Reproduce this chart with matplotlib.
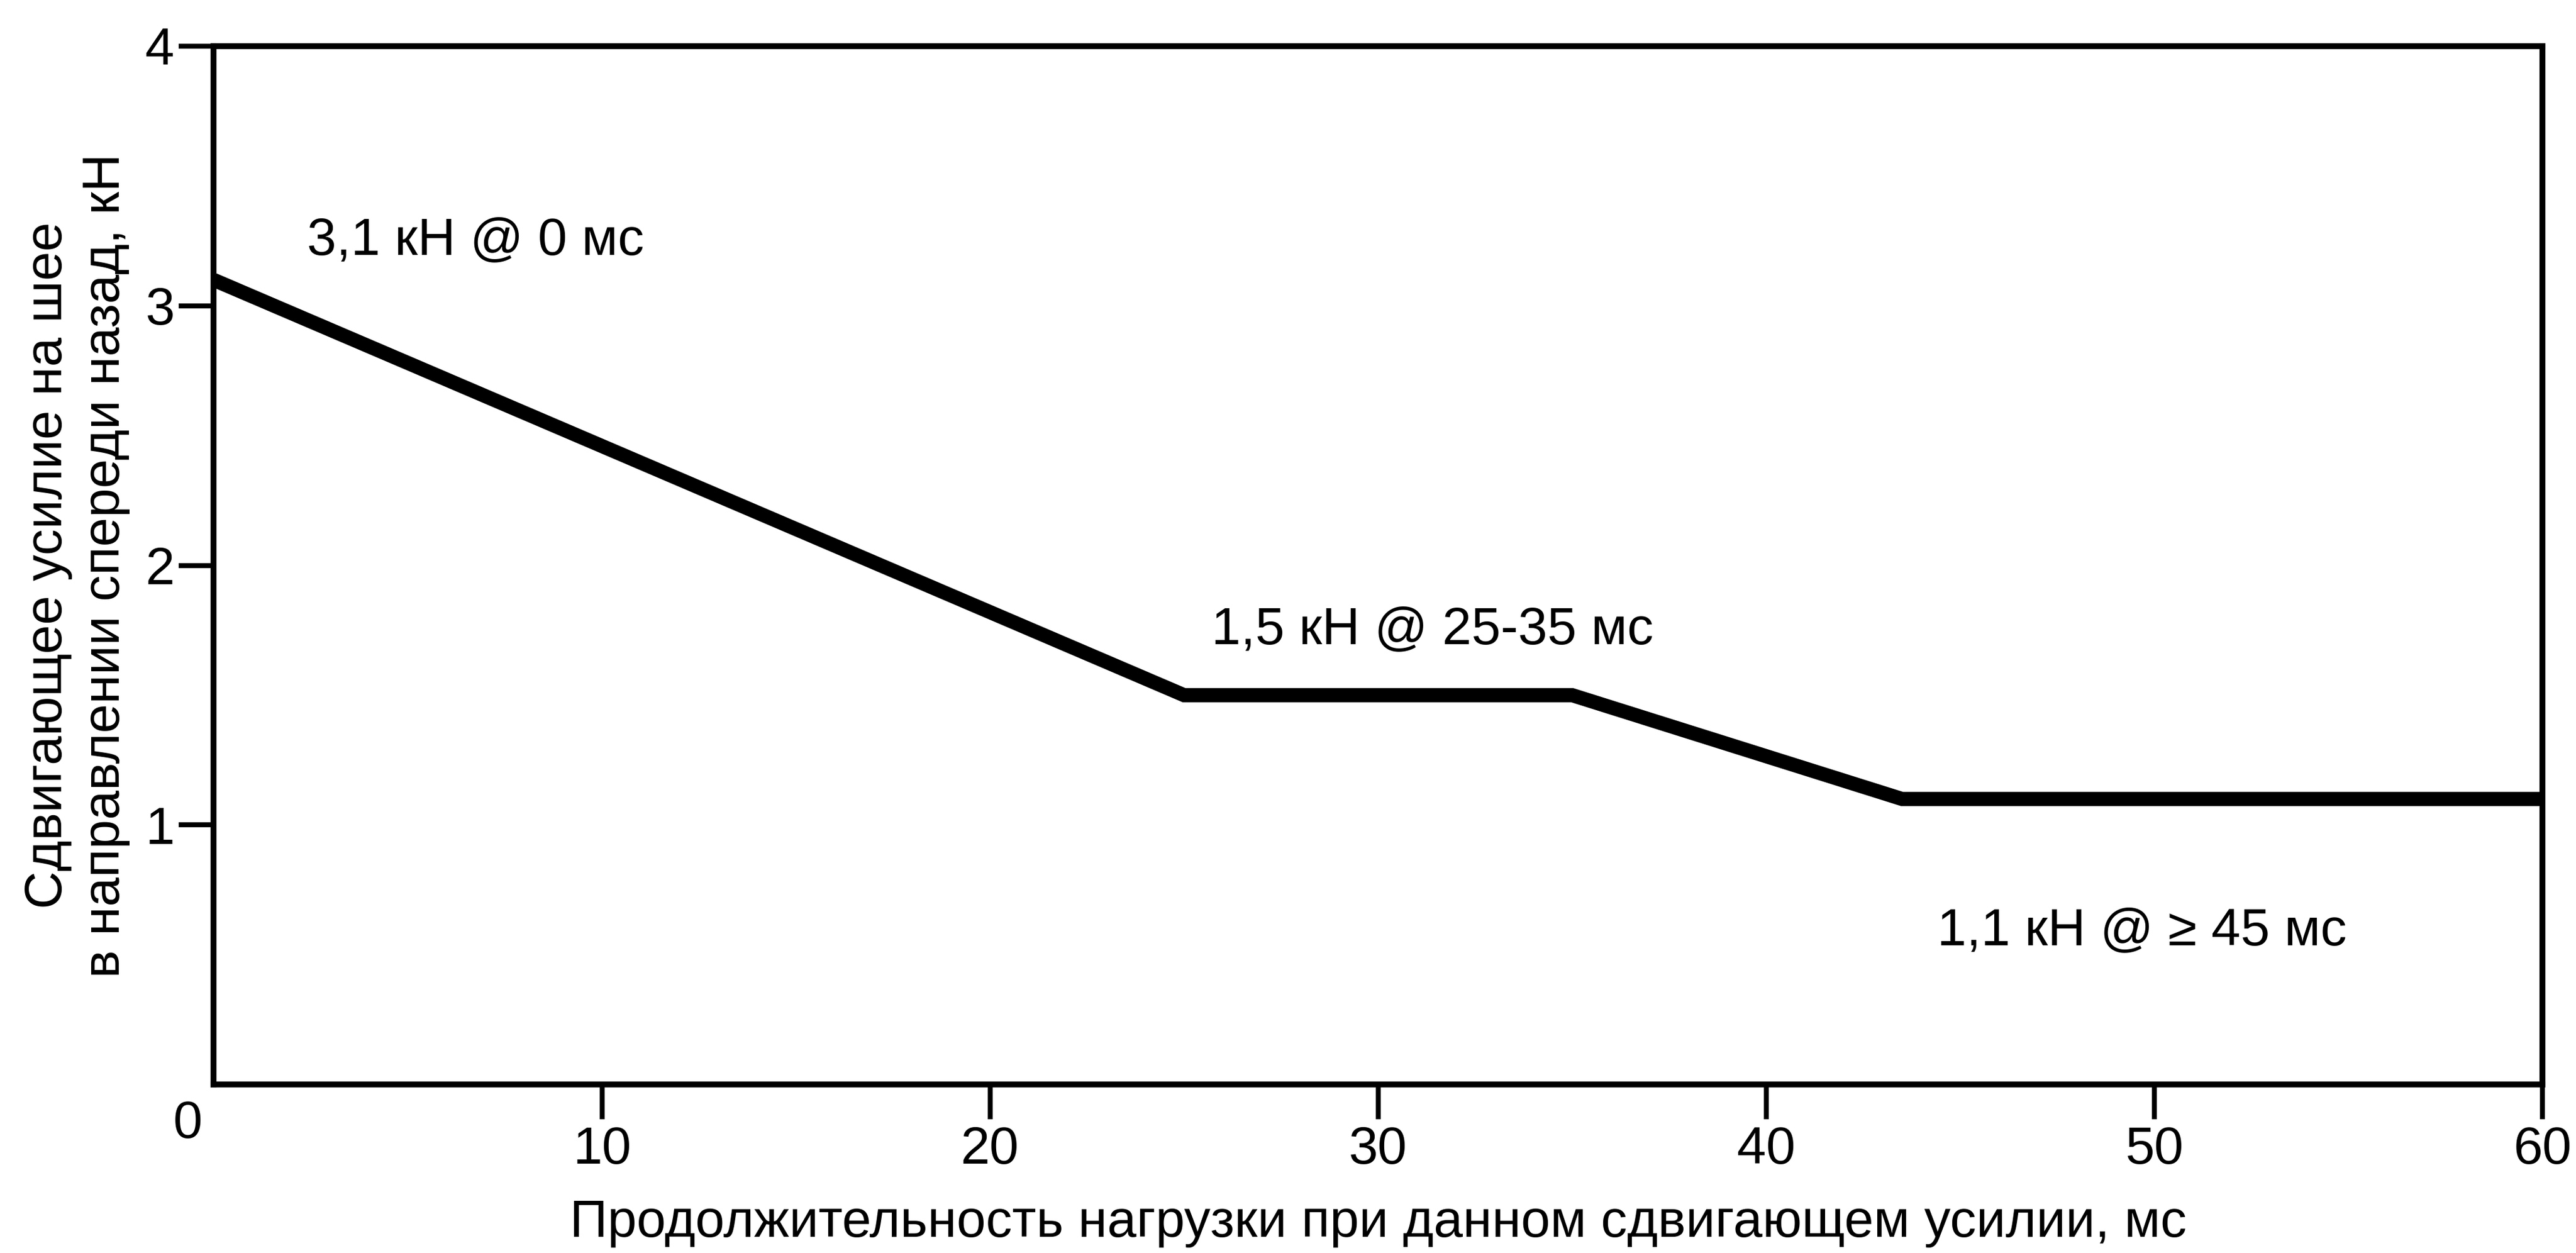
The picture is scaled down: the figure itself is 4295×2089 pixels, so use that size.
import matplotlib
matplotlib.use('Agg')
import matplotlib.pyplot as plt

plt.rcParams['font.family'] = ['Liberation Sans', 'DejaVu Sans']

# Data
duration_ms = [0, 25, 35, 43.5, 60]
shear_kn = [3.1, 1.5, 1.5, 1.1, 1.1]

x_ticks = [10, 20, 30, 40, 50, 60]
y_ticks = [1, 2, 3, 4]

notes = ['3,1 кН @ 0 мс', '1,5 кН @ 25-35 мс', '1,1 кН @ ≥ 45 мс']
note_x = [2.4, 25.7, 44.4]
note_y = [3.25, 1.75, 0.59]

fs = 63

fig = plt.figure(figsize=(42.95, 20.89), dpi=100)
ax = fig.add_axes([0.083, 0.1345, 0.904, 0.8285])

ax.plot(duration_ms, shear_kn, color='black', linewidth=17, solid_joinstyle='miter',
        solid_capstyle='butt')

ax.set_xlim(0, 60)
ax.set_ylim(0, 4)
ax.set_xticks(x_ticks)
ax.set_yticks(y_ticks)
ax.tick_params(axis='both', direction='out', length=42, width=6, labelsize=fs, color='black')
ax.tick_params(axis='x', pad=8)
ax.tick_params(axis='y', pad=5)
for sp in ax.spines.values():
    sp.set_linewidth(7)

# shared origin label
ax.text(-0.005, -0.015, '0', transform=ax.transAxes, ha='right', va='top', fontsize=fs)

for t, x, y in zip(notes, note_x, note_y):
    ax.text(x, y, t, ha='left', va='center', fontsize=fs)

ax.set_xlabel('Продолжительность нагрузки при данном сдвигающем усилии, мс', fontsize=fs, va='center')
ax.xaxis.set_label_coords(0.5, -0.134)
ax.set_ylabel('Сдвигающее усилие на шее\nв направлении спереди назад, кН', fontsize=fs,
              va='center', linespacing=1.25)
ax.yaxis.set_label_coords(-0.0587, 0.5)

fig.savefig('out.png', dpi=100)
